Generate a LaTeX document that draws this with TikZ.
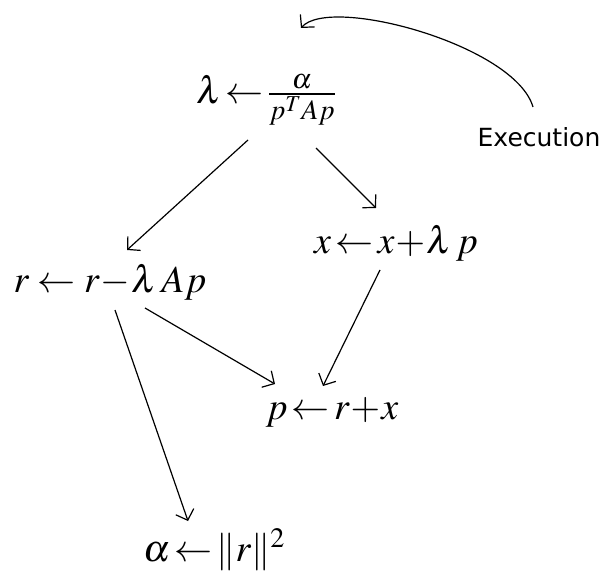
\documentclass[tikz,border=0pt]{standalone}
\usepackage{mathptmx}
\usepackage{fontspec}
\newfontfamily\execfont{DejaVu Sans}
\usetikzlibrary{arrows.meta,calc}
\begin{document}
\begin{tikzpicture}[x=1pt,y=-1pt,
  eq/.style={inner sep=0pt,font=\fontsize{38}{40}\selectfont},
  arr/.style={line width=1.2pt,-{Straight Barb[length=9pt,width=19pt,line width=1.2pt]}}]
\useasboundingbox (0,0) rectangle (606,575);
\node[eq] (lam) at (266,100) {$\lambda\!\leftarrow\!\frac{\alpha}{p^T Ap}$};
\node[eq] (r) at (110,282) {$r \leftarrow r\!-\!\lambda\, Ap$};
\node[eq] (x) at (396,243) {$x\!\leftarrow\! x\!+\!\lambda\, p$};
\node[eq] (p) at (332,412) {$p\!\leftarrow\! r\!+\!x$};
\node[eq] (a) at (214,550) {$\alpha\!\leftarrow\!\|r\|^2$};
\node[inner sep=0pt,font=\execfont\fontsize{25}{28}\selectfont] (ex) at (539,137) {Execution};
\draw[arr] ($(lam)+(-18,40)$) -- ($(r)+(17,-32)$);
\draw[arr] ($(lam)+(50,48)$) -- ($(x)+(-20,-35)$);
\draw[arr] ($(x)+(-16,27)$) -- ($(p)+(-9,-26)$);
\draw[arr] ($(r)+(35,26)$) -- ($(p)+(-57,-28)$);
\draw[arr] ($(r)+(5,28)$) -- ($(a)+(-26,-29)$);
\draw[arr] ($(ex)+(-6,-30)$) .. controls ($(ex)+(-24,-92)$) and ($(ex)+(-209,-142)$) .. ($(ex)+(-238,-109)$);
\end{tikzpicture}
\end{document}
